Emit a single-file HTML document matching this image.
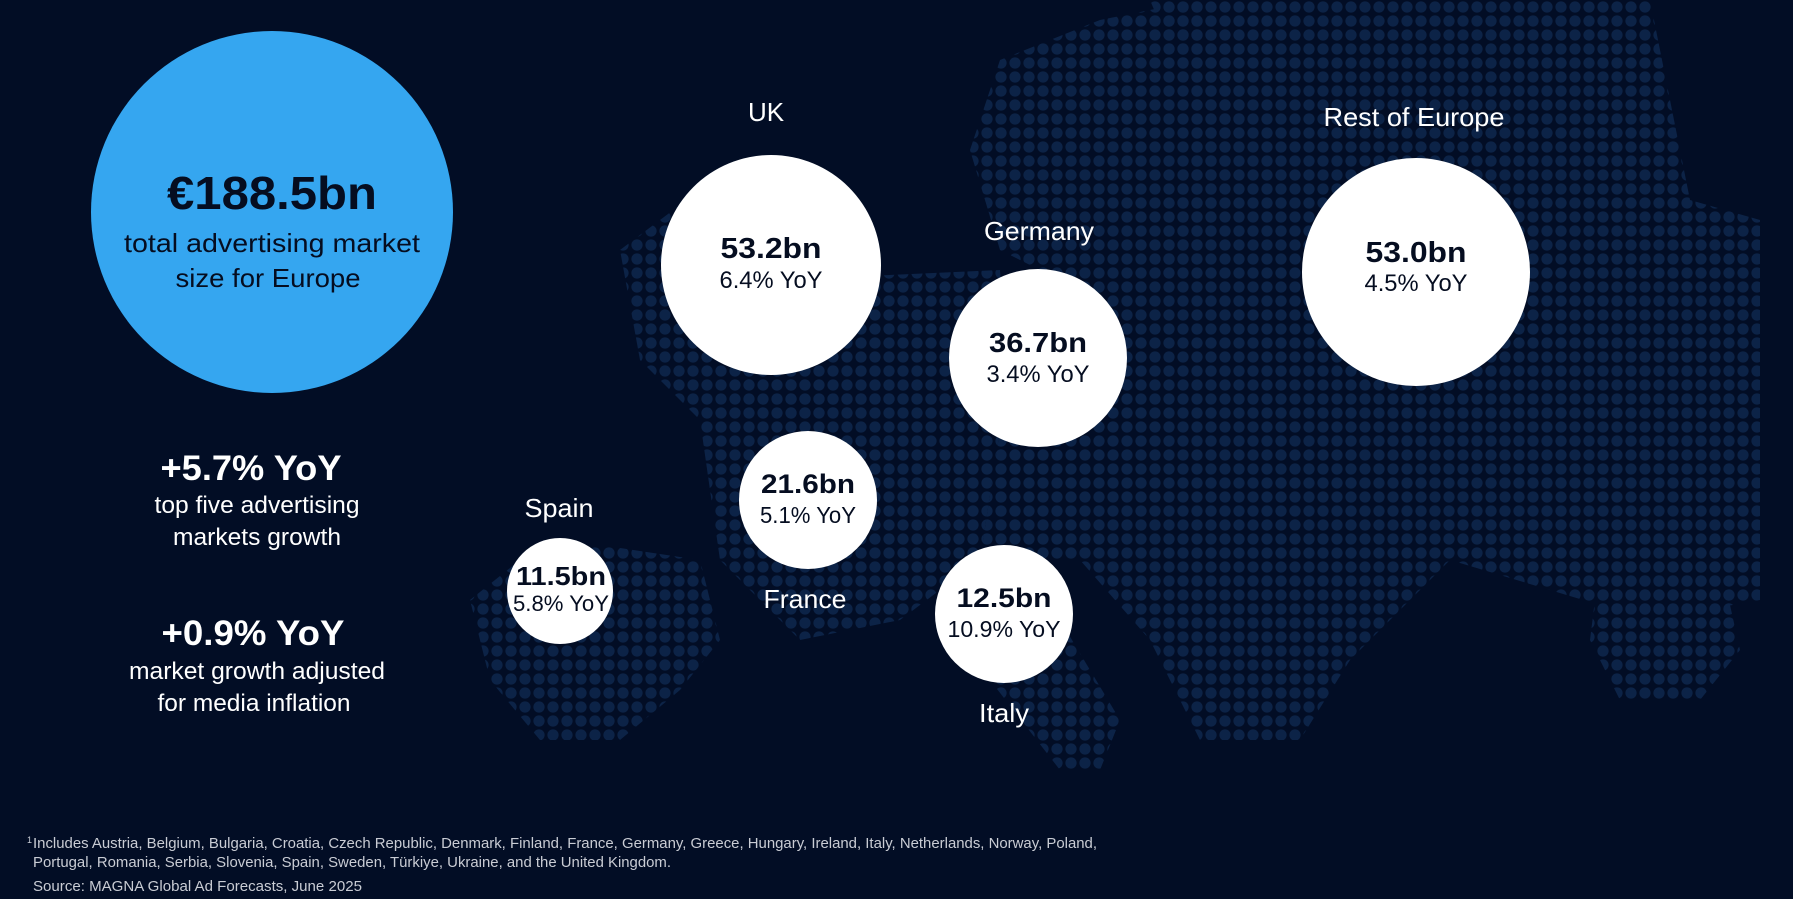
<!DOCTYPE html>
<html><head><meta charset="utf-8"><style>
html,body{margin:0;padding:0;background:#020d25;}
svg{display:block}
text{font-family:"Liberation Sans",sans-serif;}
</style></head><body>
<svg width="1793" height="899" viewBox="0 0 1793 899" xmlns="http://www.w3.org/2000/svg">
<defs>
<pattern id="dots" x="0" y="0" width="14" height="14" patternUnits="userSpaceOnUse">
<circle cx="7" cy="7" r="5.6" fill="#0c2347"/>
</pattern>
</defs>
<rect width="1793" height="899" fill="#020d25"/>
<g fill="url(#dots)">
<polygon points="470,600 520,560 600,545 700,560 720,640 680,690 620,740 540,740 490,680"/>
<polygon points="700,420 780,400 950,380 1000,430 980,560 900,620 800,640 720,560"/>
<polygon points="620,250 700,190 780,200 820,290 800,400 700,420 640,360"/>
<polygon points="1000,60 1100,20 1200,0 1250,100 1200,260 1100,300 1000,250 970,150"/>
<polygon points="1150,0 1650,0 1690,200 1760,220 1760,600 1650,620 1450,560 1350,660 1300,740 1200,740 1150,640 1080,560 980,560 1000,430 950,380 1000,300 1150,280 1200,120"/>
<polygon points="780,280 1000,270 1010,420 900,400 790,420"/>
<polygon points="1000,600 1060,620 1120,720 1100,770 1060,770 990,680"/>
<polygon points="1600,560 1720,560 1740,650 1700,700 1620,700 1590,640"/>
</g>
<circle cx="272" cy="212" r="181" fill="#35a6f0"/>
<text x="272" y="209" text-anchor="middle" font-size="46" font-weight="bold" fill="#050d20" textLength="210" lengthAdjust="spacingAndGlyphs">€188.5bn</text>
<text x="272" y="252" text-anchor="middle" font-size="26" fill="#050d20" textLength="296" lengthAdjust="spacingAndGlyphs">total advertising market</text>
<text x="268" y="287" text-anchor="middle" font-size="26" fill="#050d20" textLength="185" lengthAdjust="spacingAndGlyphs">size for Europe</text>
<g fill="#fff" text-anchor="middle" lengthAdjust="spacingAndGlyphs">
<text x="251" y="480" font-size="35" font-weight="bold" textLength="181" lengthAdjust="spacingAndGlyphs">+5.7% YoY</text>
<text x="257" y="513" font-size="24" textLength="205" lengthAdjust="spacingAndGlyphs">top five advertising</text>
<text x="257" y="545" font-size="24" textLength="168" lengthAdjust="spacingAndGlyphs">markets growth</text>
<text x="253" y="645" font-size="35" font-weight="bold" textLength="183" lengthAdjust="spacingAndGlyphs">+0.9% YoY</text>
<text x="257" y="679" font-size="24" textLength="256" lengthAdjust="spacingAndGlyphs">market growth adjusted</text>
<text x="254" y="711" font-size="24" textLength="193" lengthAdjust="spacingAndGlyphs">for media inflation</text>
<text x="766" y="121" font-size="26">UK</text>
<text x="1039" y="240" font-size="26" textLength="110" lengthAdjust="spacingAndGlyphs">Germany</text>
<text x="1414" y="126" font-size="26" textLength="181" lengthAdjust="spacingAndGlyphs">Rest of Europe</text>
<text x="559" y="517" font-size="26" textLength="69" lengthAdjust="spacingAndGlyphs">Spain</text>
<text x="805" y="608" font-size="26" textLength="83" lengthAdjust="spacingAndGlyphs">France</text>
<text x="1004" y="722" font-size="26" textLength="50" lengthAdjust="spacingAndGlyphs">Italy</text>
</g>
<g fill="#fff">
<circle cx="771" cy="265" r="110"/>
<circle cx="1038" cy="358" r="89"/>
<circle cx="1416" cy="272" r="114"/>
<circle cx="808" cy="500" r="69"/>
<circle cx="560" cy="591" r="53"/>
<circle cx="1004" cy="614" r="69"/>
</g>
<g fill="#050d20" text-anchor="middle">
<text x="771" y="258" font-size="29" font-weight="bold" textLength="101" lengthAdjust="spacingAndGlyphs">53.2bn</text>
<text x="771" y="288" font-size="24" textLength="103" lengthAdjust="spacingAndGlyphs">6.4% YoY</text>
<text x="1038" y="352" font-size="28" font-weight="bold" textLength="98" lengthAdjust="spacingAndGlyphs">36.7bn</text>
<text x="1038" y="382" font-size="24" textLength="103" lengthAdjust="spacingAndGlyphs">3.4% YoY</text>
<text x="1416" y="262" font-size="29" font-weight="bold" textLength="101" lengthAdjust="spacingAndGlyphs">53.0bn</text>
<text x="1416" y="291" font-size="24" textLength="103" lengthAdjust="spacingAndGlyphs">4.5% YoY</text>
<text x="808" y="493" font-size="27" font-weight="bold" textLength="94" lengthAdjust="spacingAndGlyphs">21.6bn</text>
<text x="808" y="523" font-size="23" textLength="96" lengthAdjust="spacingAndGlyphs">5.1% YoY</text>
<text x="561" y="585" font-size="26" font-weight="bold" textLength="90" lengthAdjust="spacingAndGlyphs">11.5bn</text>
<text x="561" y="611" font-size="22" textLength="96" lengthAdjust="spacingAndGlyphs">5.8% YoY</text>
<text x="1004" y="607" font-size="27" font-weight="bold" textLength="95" lengthAdjust="spacingAndGlyphs">12.5bn</text>
<text x="1004" y="637" font-size="23" textLength="113" lengthAdjust="spacingAndGlyphs">10.9% YoY</text>
</g>
<g fill="#c9ccd4" font-size="15">
<text x="27" y="843" font-size="9">1</text>
<text x="33" y="848" textLength="1064" lengthAdjust="spacingAndGlyphs">Includes Austria, Belgium, Bulgaria, Croatia, Czech Republic, Denmark, Finland, France, Germany, Greece, Hungary, Ireland, Italy, Netherlands, Norway, Poland,</text>
<text x="33" y="867" textLength="638" lengthAdjust="spacingAndGlyphs">Portugal, Romania, Serbia, Slovenia, Spain, Sweden, Türkiye, Ukraine, and the United Kingdom.</text>
<text x="33" y="891" textLength="329" lengthAdjust="spacingAndGlyphs">Source: MAGNA Global Ad Forecasts, June 2025</text>
</g>
</svg>
</body></html>
